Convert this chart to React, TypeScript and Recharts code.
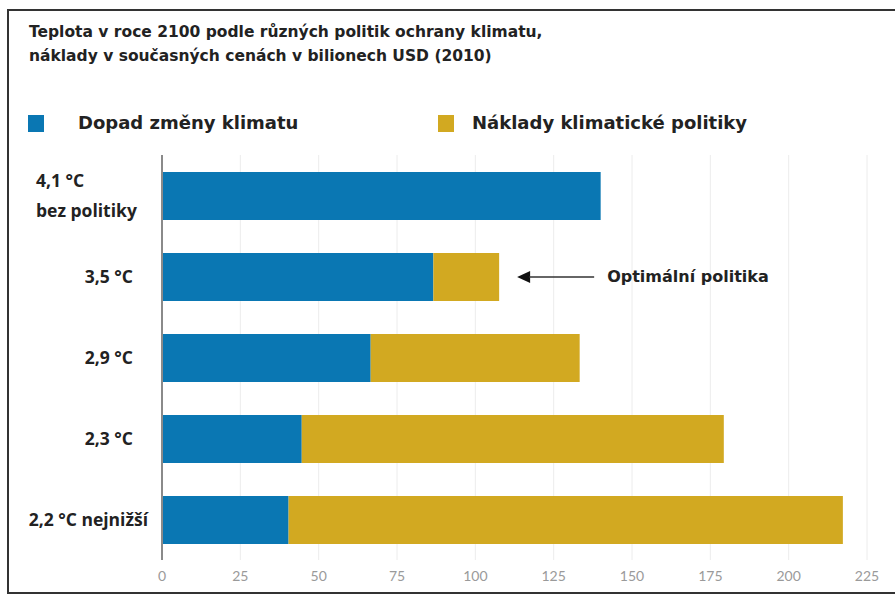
import React from 'react';
import {
  BarChart,
  Bar,
  XAxis,
  YAxis,
  CartesianGrid,
  Legend,
  LabelList,
} from 'recharts';

// Scenarios (temperature in 2100) and their costs in trillions of USD (2010 prices)
const categories = [
  '4,1 °C\nbez politiky',
  '3,5 °C',
  '2,9 °C',
  '2,3 °C',
  '2,2 °C nejnižší',
];
const climateImpact = [140, 86.6, 66.6, 44.6, 40.4];
const policyCost = [0, 21, 66.7, 134.7, 176.9];
const xTicks = [0, 25, 50, 75, 100, 125, 150, 175, 200, 225];

const seriesNames = ['Dopad změny klimatu', 'Náklady klimatické politiky'];
const annotationText = 'Optimální politika';
const annotatedCategory = categories[1];

const titleLines = [
  'Teplota v roce 2100 podle různých politik ochrany klimatu,',
  'náklady v současných cenách v bilionech USD (2010)',
];

const BLUE = '#0a77b3';
const GOLD = '#d2a921';
const FONT = '"DejaVu Sans", Verdana, sans-serif';
const LABEL_FONT = '"Open Sans", "Noto Sans", sans-serif';
const TICK_FONT = 'Lato, "Open Sans", sans-serif';

const data = categories.map((label, i) => ({
  label,
  impact: climateImpact[i],
  cost: policyCost[i],
}));

// Category label: the first one is left aligned on two lines, the rest end near the axis
const CategoryTick = (props: any) => {
  const { y, payload, index } = props;
  const lines = String(payload.value).split('\n');
  const common = {
    fontFamily: LABEL_FONT,
    fontWeight: 700,
    fontSize: 17.5,
    fill: '#222',
  };
  if (lines.length > 1) {
    return (
      <text x={36} y={y} textAnchor="start" {...common}>
        {lines.map((ln, k) => (
          <tspan key={k} x={36} dy={k === 0 ? -9 : 30}>
            {ln}
          </tspan>
        ))}
      </text>
    );
  }
  const endX = index === categories.length - 1 ? 148 : 133;
  return (
    <text x={endX} y={y} dy={6} textAnchor="end" {...common}>
      {lines[0]}
    </text>
  );
};

// Arrow and caption pointing at the end of the annotated stacked bar
const OptimumMarker = (props: any) => {
  const { x, y, width, height, value } = props;
  if (value !== annotatedCategory) return null;
  const cy = y + height / 2;
  const tip = x + width + 18;
  return (
    <g>
      <polygon
        points={`${tip},${cy} ${tip + 13},${cy - 6} ${tip + 13},${cy + 6}`}
        fill="#111"
      />
      <line x1={tip + 12} y1={cy} x2={tip + 77} y2={cy} stroke="#333" strokeWidth={1.5} />
      <text
        x={tip + 90}
        y={cy}
        dy={5}
        fontFamily={FONT}
        fontWeight={700}
        fontSize={16}
        fill="#222"
      >
        {annotationText}
      </text>
    </g>
  );
};

const LegendBlock = () => (
  <div style={{ position: 'relative', height: 24, fontFamily: FONT }}>
    {[BLUE, GOLD].map((c, i) => (
      <div
        key={i}
        style={{
          position: 'absolute',
          left: i === 0 ? 28 : 438,
          top: 0,
          display: 'flex',
          alignItems: 'center',
          height: 24,
        }}
      >
        <span style={{ width: 16, height: 17, background: c, display: 'inline-block' }} />
        <span
          style={{
            marginLeft: i === 0 ? 34 : 18,
            fontSize: 18,
            fontWeight: 700,
            color: '#222',
            lineHeight: '24px',
            whiteSpace: 'nowrap',
          }}
        >
          {seriesNames[i]}
        </span>
      </div>
    ))}
  </div>
);

export default function App() {
  return (
    <div
      style={{
        position: 'absolute',
        left: 0,
        top: 0,
        width: 895,
        height: 596,
        background: '#fff',
        overflow: 'hidden',
      }}
    >
      <div
        style={{
          position: 'absolute',
          left: 7,
          top: 9,
          width: 900,
          height: 585,
          borderLeft: '2px solid #333',
          borderTop: '2px solid #333',
          borderBottom: '2px solid #333',
          boxSizing: 'border-box',
        }}
      />
      <div
        style={{
          position: 'absolute',
          left: 29,
          top: 20,
          fontFamily: FONT,
          fontWeight: 700,
          fontSize: 15.5,
          lineHeight: '24px',
          color: '#222',
          whiteSpace: 'nowrap',
        }}
      >
        {titleLines.map((t, i) => (
          <div key={i}>{t}</div>
        ))}
      </div>
      <BarChart
        width={895}
        height={596}
        layout="vertical"
        data={data}
        margin={{ top: 131, right: 28, bottom: 6, left: 0 }}
        barCategoryGap={16}
      >
        <CartesianGrid horizontal={false} vertical stroke="#ececec" strokeWidth={1} />
        <XAxis
          type="number"
          domain={[0, 225]}
          ticks={xTicks}
          axisLine={false}
          tickLine={false}
          height={30}
          tick={{ fill: '#9a9a9a', fontSize: 14, fontFamily: TICK_FONT, dy: 3 }}
        />
        <YAxis
          type="category"
          dataKey="label"
          width={162}
          axisLine={{ stroke: '#8a8a8a', strokeWidth: 2 }}
          tickLine={false}
          tick={<CategoryTick />}
          interval={0}
        />
        <Legend
          verticalAlign="top"
          content={() => <LegendBlock />}
          wrapperStyle={{ position: 'absolute', top: 111, left: 0, width: 895 }}
        />
        <Bar dataKey="impact" stackId="s" fill={BLUE} barSize={48} isAnimationActive={false} />
        <Bar dataKey="cost" stackId="s" fill={GOLD} barSize={48} isAnimationActive={false}>
          <LabelList dataKey="label" content={<OptimumMarker />} />
        </Bar>
      </BarChart>
    </div>
  );
}
